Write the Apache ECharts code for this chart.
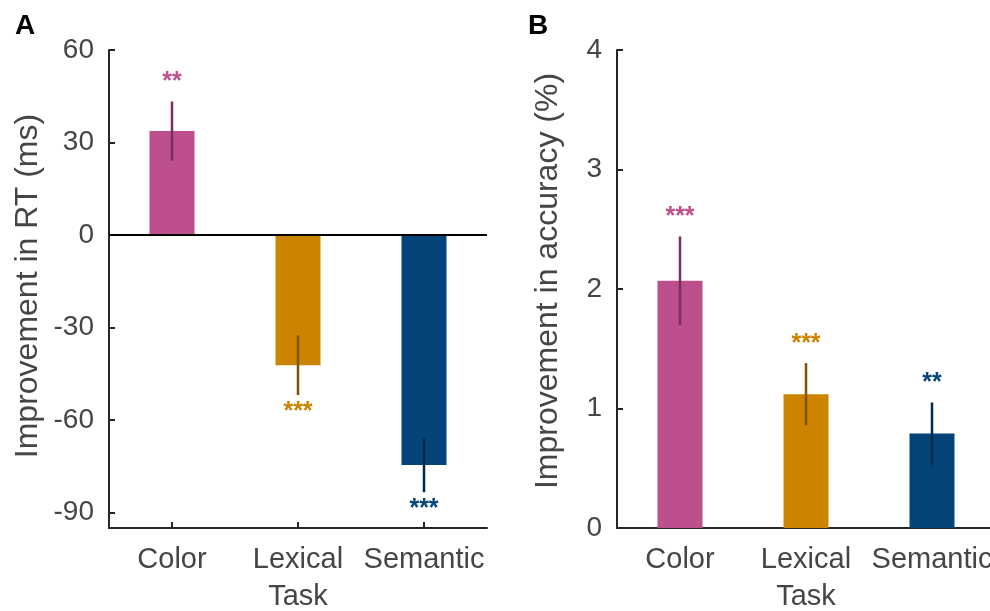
<!DOCTYPE html>
<html>
<head>
<meta charset="utf-8">
<script src="https://cdn.jsdelivr.net/npm/echarts@6/dist/echarts.min.js"></script>
<style>
html,body{margin:0;padding:0;background:#fff;}
#main{width:990px;height:611px;}
</style>
</head>
<body>
<div id="main"></div>
<script>
// ---- data ----
const categories = ['Color', 'Lexical', 'Semantic'];
const rtMean = [33.7, -42.2, -74.6];
const rtErr = [9.6, 9.7, 8.8];
const rtStars = ['**', '***', '***'];
const accMean = [2.07, 1.12, 0.79];
const accErr = [0.37, 0.26, 0.26];
const accStars = ['***', '***', '**'];
const rtTicks = [-90, -60, -30, 0, 30, 60];
const accTicks = [0, 1, 2, 3, 4];
const xTitle = 'Task';
const rtTitle = 'Improvement in RT (ms)';
const accTitle = 'Improvement in accuracy (%)';

// ---- styles ----
const barColors = ['#BD4F8D', '#CC8400', '#054478'];
const errColors = ['#7A2F5D', '#7F5300', '#03294A'];
const FONT = 'Liberation Sans, Arial, Helvetica, sans-serif';
const AXIS_COLOR = '#262626';
const LABEL_COLOR = '#454545';

const chart = echarts.init(document.getElementById('main'), null, {renderer: 'canvas'});

function makeErrRender(stars) {
  return function (params, api) {
    const i = api.value(0);
    const m = api.value(1);
    const e = api.value(2);
    const top = api.coord([i, m + e]);
    const bot = api.coord([i, m - e]);
    const up = m >= 0;
    const sy = up ? top[1] - 19 : bot[1] + 17;
    return {
      type: 'group',
      children: [
        {type: 'line', shape: {x1: top[0], y1: top[1], x2: bot[0], y2: bot[1]},
         style: {stroke: errColors[i], lineWidth: 2.5}},
        {type: 'text', x: top[0], y: sy,
         style: {text: stars[i], fill: barColors[i], font: '600 25px ' + FONT,
                 align: 'center', verticalAlign: 'middle'}}
      ]
    };
  };
}

function xAxisCfg(gridIndex) {
  return {
    type: 'category', gridIndex: gridIndex, data: categories,
    name: xTitle, nameLocation: 'middle', nameGap: 54,
    nameTextStyle: {fontFamily: FONT, fontSize: 29, color: LABEL_COLOR},
    axisLine: {onZero: false, lineStyle: {color: AXIS_COLOR, width: 2}},
    axisTick: {show: true, inside: true, alignWithLabel: true, length: 6, lineStyle: {color: AXIS_COLOR, width: 2}},
    axisLabel: {fontFamily: FONT, fontSize: 29, color: LABEL_COLOR, margin: 17, interval: 0},
    splitLine: {show: false}
  };
}

const option = {
  backgroundColor: '#fff',
  animation: false,
  grid: [
    {left: 109, top: 50, width: 378, height: 478, outerBoundsMode: 'none', containLabel: false},
    {left: 617, top: 50, width: 378, height: 478, outerBoundsMode: 'none', containLabel: false}
  ],
  xAxis: [xAxisCfg(0), xAxisCfg(1)],
  yAxis: [
    {
      type: 'value', gridIndex: 0, min: -95, max: 60,
      axisLine: {show: true, lineStyle: {color: AXIS_COLOR, width: 2}},
      axisTick: {show: true, inside: true, length: 6, customValues: rtTicks, lineStyle: {color: AXIS_COLOR, width: 2}},
      axisLabel: {fontFamily: FONT, fontSize: 28, color: LABEL_COLOR, margin: 15, customValues: rtTicks},
      splitLine: {show: false}
    },
    {
      type: 'value', gridIndex: 1, min: 0, max: 4, interval: 1,
      axisLine: {show: true, lineStyle: {color: AXIS_COLOR, width: 2}},
      axisTick: {show: true, inside: true, length: 6, lineStyle: {color: AXIS_COLOR, width: 2}},
      axisLabel: {fontFamily: FONT, fontSize: 28, color: LABEL_COLOR, margin: 15, customValues: accTicks},
      splitLine: {show: false}
    }
  ],
  series: [
    {
      type: 'bar', xAxisIndex: 0, yAxisIndex: 0, barWidth: 45,
      data: rtMean.map((v, i) => ({value: v, itemStyle: {color: barColors[i]}})),
      markLine: {
        silent: true, symbol: 'none', label: {show: false},
        lineStyle: {color: '#000', width: 2, type: 'solid'},
        data: [{yAxis: 0}]
      }
    },
    {
      type: 'custom', xAxisIndex: 0, yAxisIndex: 0, z: 5,
      renderItem: makeErrRender(rtStars),
      encode: {x: 0, y: 1},
      data: rtMean.map((v, i) => [i, v, rtErr[i]])
    },
    {
      type: 'bar', xAxisIndex: 1, yAxisIndex: 1, barWidth: 45,
      data: accMean.map((v, i) => ({value: v, itemStyle: {color: barColors[i]}}))
    },
    {
      type: 'custom', xAxisIndex: 1, yAxisIndex: 1, z: 5,
      renderItem: makeErrRender(accStars),
      encode: {x: 0, y: 1},
      data: accMean.map((v, i) => [i, v, accErr[i]])
    }
  ],
  graphic: [
    {type: 'text', x: 25, y: 26, style: {text: 'A', font: 'bold 28px ' + FONT, fill: '#000', align: 'center', verticalAlign: 'middle'}},
    {type: 'text', x: 538, y: 26, style: {text: 'B', font: 'bold 28px ' + FONT, fill: '#000', align: 'center', verticalAlign: 'middle'}},
    {type: 'text', x: 28, y: 286, rotation: Math.PI / 2,
     style: {text: rtTitle, font: '32px ' + FONT, fill: LABEL_COLOR, align: 'center', verticalAlign: 'middle'}},
    {type: 'text', x: 548, y: 281, rotation: Math.PI / 2,
     style: {text: accTitle, font: '32px ' + FONT, fill: LABEL_COLOR, align: 'center', verticalAlign: 'middle'}}
  ]
};
chart.setOption(option);
</script>
</body>
</html>
